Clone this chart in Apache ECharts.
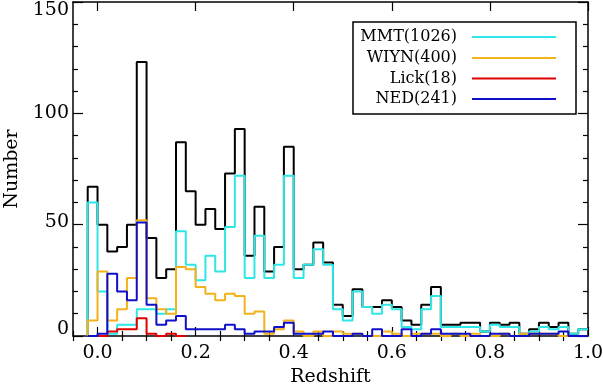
<!DOCTYPE html>
<html><head><meta charset="utf-8">
<script src="https://cdn.jsdelivr.net/npm/echarts@6/dist/echarts.min.js"></script>
<style>html,body{margin:0;padding:0;background:#fff}#c{width:603px;height:384px}</style>
</head><body><div id="c"></div>
<script>
// bin left edges (bin width 0.02)
const binStart = [-0.02,0.00,0.02,0.04,0.06,0.08,0.10,0.12,0.14,0.16,0.18,0.20,0.22,0.24,0.26,0.28,0.30,0.32,0.34,0.36,0.38,0.40,0.42,0.44,0.46,0.48,0.50,0.52,0.54,0.56,0.58,0.60,0.62,0.64,0.66,0.68,0.70,0.72,0.74,0.76,0.78,0.80,0.82,0.84,0.86,0.88,0.90,0.92,0.94,0.96,0.98];
const binWidth = 0.02;
const totalCounts = [67,50,38,40,50,123,44,26,30,87,65,50,57,48,73,93,36,58,29,40,85,30,32,42,33,14,9,21,13,13,16,13,7,5,14,22,5,5,6,6,2,6,5,6,1,3,6,4,6,1,3];
const mmtCounts   = [60,20,1,5,5,12,12,10,12,47,32,25,36,29,49,72,26,45,26,32,72,26,32,39,32,12,7,20,13,10,14,12,4,3,12,18,4,4,4,4,2,5,4,4,1,2,4,3,4,1,3];
const wiynCounts  = [7,29,7,12,26,52,17,12,10,31,30,22,19,16,19,18,10,11,1,3,7,2,0,2,0,2,1,1,0,0,2,1,0,1,1,1,0,1,0,1,0,0,1,0,1,1,1,1,0,0,0];
const lickCounts  = [null,0,2,3,3,8,1,0,1,0,null,null,null,null,null,null,null,null,null,null,null,null,null,null,null,null,null,null,null,null,null,null,null,null,null,null,null,null,null,null,null,null,null,null,null,null,null,null,null,null,null];
const nedCounts   = [0,1,28,20,16,51,14,5,7,9,3,3,3,3,5,3,1,2,2,4,6,1,1,1,2,0,0,1,0,3,0,0,3,0,1,3,1,1,1,0,0,1,1,0,0,1,1,1,2,0,0];
const seriesNames = ['MMT(1026)','WIYN(400)','Lick(18)','NED(241)'];
const xMajor = [0.0,0.2,0.4,0.6,0.8,1.0];
const xMinor = [-0.05,0.05,0.1,0.15,0.25,0.3,0.35,0.45,0.5,0.55,0.65,0.7,0.75,0.85,0.9,0.95];

function stepData(vals){
  const pts=[]; let last=-1;
  for(let i=0;i<vals.length;i++){
    if(vals[i]===null||vals[i]===undefined) continue;
    if(last<0) pts.push([binStart[i],0]);
    pts.push([binStart[i],vals[i]]);
    last=i;
  }
  const endX = binStart[last]+binWidth;
  pts.push([endX, vals[last]]);
  if(endX < 1.0) pts.push([endX,0]);
  return pts;
}
const FONT = 'DejaVu Serif';
const colors = {total:'#000000', mmt:'#2ee6e6', wiyn:'#f2b21c', lick:'#e00000', ned:'#1010c8'};
function line(name,vals,color,z){
  return {name:name,type:'line',step:'end',data:stepData(vals),symbol:'none',
    lineStyle:{color:color,width:2},itemStyle:{color:color},z:z,xAxisIndex:0,yAxisIndex:0,silent:true};
}
const chart = echarts.init(document.getElementById('c'),null,{renderer:'canvas'});
const G = {left:73,right:15,top:2,bottom:48};
const axisLineStyle = {color:'#000',width:1.5};
const lblX = xMajor.map(v=>v);
const yRich = {
  y0:{fontFamily:FONT,fontSize:19,color:'#000',padding:[0,0,14,0]},
  y50:{fontFamily:FONT,fontSize:19,color:'#000',padding:[0,0,5,0]},
  y100:{fontFamily:FONT,fontSize:19,color:'#000'},
  y150:{fontFamily:FONT,fontSize:19,color:'#000',padding:[16,0,0,0]}
};
chart.setOption({
  animation:false,
  backgroundColor:'#fff',
  grid:{left:G.left,right:G.right,top:G.top,bottom:G.bottom,containLabel:false,outerBoundsMode:'none'},
  xAxis:[
    {type:'value',position:'bottom',min:-0.05,max:1.0,
     axisLine:{show:true,onZero:false,lineStyle:axisLineStyle},
     axisTick:{show:true,inside:true,length:9,customValues:xMajor,lineStyle:{color:'#000',width:1.2}},
     axisLabel:{show:true,customValues:lblX,margin:8,color:'#000',fontFamily:FONT,fontSize:19,formatter:v=>v.toFixed(1)},
     splitLine:{show:false},
     name:'Redshift',nameLocation:'middle',nameGap:29,nameTextStyle:{color:'#000',fontFamily:FONT,fontSize:19}},
    {type:'value',position:'bottom',min:-0.05,max:1.0,
     axisLine:{show:false},axisTick:{show:true,inside:true,length:5,customValues:xMinor,lineStyle:{color:'#000',width:1.2}},
     axisLabel:{show:false},splitLine:{show:false}},
    {type:'value',position:'top',min:-0.05,max:1.0,
     axisLine:{show:true,onZero:false,lineStyle:axisLineStyle},
     axisTick:{show:true,inside:true,length:9,customValues:xMajor,lineStyle:{color:'#000',width:1.2}},
     axisLabel:{show:false},splitLine:{show:false}},
    {type:'value',position:'top',min:-0.05,max:1.0,
     axisLine:{show:false},axisTick:{show:true,inside:true,length:5,customValues:xMinor,lineStyle:{color:'#000',width:1.2}},
     axisLabel:{show:false},splitLine:{show:false}}
  ],
  yAxis:[
    {type:'value',position:'left',min:0,max:150,interval:50,
     axisLine:{show:true,onZero:false,lineStyle:axisLineStyle},
     axisTick:{show:true,inside:true,length:10,lineStyle:{color:'#000',width:1.2}},
     minorTick:{show:true,splitNumber:5,length:5,lineStyle:{color:'#000',width:1.2}},
     axisLabel:{show:true,margin:4,color:'#000',fontFamily:FONT,fontSize:19,
       formatter:v=>'{y'+v+'|'+v+'}',rich:yRich},
     splitLine:{show:false},
     name:'Number',nameLocation:'middle',nameGap:44,nameRotate:90,nameTextStyle:{color:'#000',fontFamily:FONT,fontSize:19}},
    {type:'value',position:'right',min:0,max:150,interval:50,
     axisLine:{show:true,onZero:false,lineStyle:axisLineStyle},
     axisTick:{show:true,inside:true,length:10,lineStyle:{color:'#000',width:1.2}},
     minorTick:{show:true,splitNumber:5,length:5,lineStyle:{color:'#000',width:1.2}},
     axisLabel:{show:false},splitLine:{show:false}}
  ],
  series:[
    line('Total',totalCounts,colors.total,2),
    line(seriesNames[0],mmtCounts,colors.mmt,3),
    line(seriesNames[1],wiynCounts,colors.wiyn,4),
    line(seriesNames[2],lickCounts,colors.lick,5),
    line(seriesNames[3],nedCounts,colors.ned,6)
  ],
  graphic:[
    {type:'rect',shape:{x:353,y:22,width:223,height:92},style:{fill:'#fff',stroke:'#000',lineWidth:1.5},z:100},
    ...seriesNames.map((n,i)=>({type:'text',x:457,y:[37,58,78.5,99][i],z:101,
      style:{text:n,textAlign:'right',textVerticalAlign:'middle',fill:'#000',font:'16px "DejaVu Serif"'}})),
    ...[colors.mmt,colors.wiyn,colors.lick,colors.ned].map((c,i)=>({type:'line',z:101,
      shape:{x1:472,y1:[37,58,78.5,99][i],x2:556,y2:[37,58,78.5,99][i]},style:{stroke:c,lineWidth:2}}))
  ]
});
</script></body></html>
